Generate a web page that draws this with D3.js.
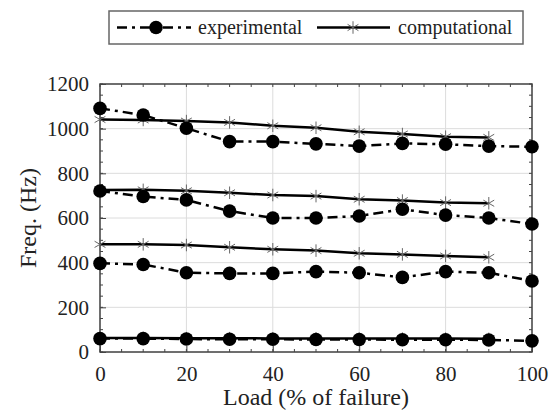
<!DOCTYPE html>
<html>
<head>
<meta charset="utf-8">
<script src="https://cdn.jsdelivr.net/npm/d3@7"></script>
<style>
  body { margin: 0; background: #fff; }
</style>
</head>
<body>
<div id="chart"></div>
<script>
// load levels (% of failure)
const loadExp = [0, 10, 20, 30, 40, 50, 60, 70, 80, 90, 100];
const loadComp = [0, 10, 20, 30, 40, 50, 60, 70, 80, 90];

// experimental frequencies (Hz), one array per mode
const exp1 = [60, 60, 58, 57, 57, 56, 56, 55, 55, 54, 50];
const exp2 = [397, 392, 355, 352, 352, 360, 355, 334, 360, 355, 318];
const exp3 = [721, 696, 681, 631, 600, 600, 609, 639, 613, 600, 573];
const exp4 = [1091, 1061, 1002, 942, 942, 932, 922, 934, 930, 922, 919];

// computational frequencies (Hz)
const comp1 = [63, 63, 62, 62, 61, 61, 60, 60, 60, 59];
const comp2 = [482, 482, 479, 469, 460, 454, 442, 437, 430, 424];
const comp3 = [725, 726, 722, 713, 703, 698, 684, 678, 669, 666];
const comp4 = [1041, 1039, 1034, 1028, 1013, 1004, 986, 976, 964, 961];

const xTicks = [0, 20, 40, 60, 80, 100];
const yTicks = [0, 200, 400, 600, 800, 1000, 1200];

const width = 552, height = 418;
const margin = { top: 84, right: 20, bottom: 66, left: 100 };
const serif = "'Liberation Serif'";

const svg = d3.select("#chart").append("svg")
  .attr("width", width)
  .attr("height", height);

const x = d3.scaleLinear().domain([0, 100]).range([margin.left, width - margin.right]);
const y = d3.scaleLinear().domain([0, 1200]).range([height - margin.bottom, margin.top]);

// grid
svg.append("g")
  .selectAll("line")
  .data(xTicks)
  .join("line")
  .attr("x1", d => x(d)).attr("x2", d => x(d))
  .attr("y1", y(0)).attr("y2", y(1200))
  .attr("stroke", "#dcdcdc").attr("stroke-width", 1);

svg.append("g")
  .selectAll("line")
  .data(yTicks)
  .join("line")
  .attr("x1", x(0)).attr("x2", x(100))
  .attr("y1", d => y(d)).attr("y2", d => y(d))
  .attr("stroke", "#dcdcdc").attr("stroke-width", 1);

// axes (ticks inward)
const axisColor = "#444";
function styleAxis(g) {
  g.attr("font-family", serif).attr("font-size", 21);
  g.select(".domain").remove();
  g.selectAll("line").attr("stroke", axisColor);
  g.selectAll("text").attr("fill", "#222");
}

const xMinor = d3.range(0, 101, 5);
const yMinor = d3.range(0, 1201, 50);

svg.append("g")
  .attr("transform", `translate(0,${y(0)})`)
  .call(d3.axisBottom(x).tickValues(xTicks).tickFormat(d3.format("d"))
    .tickSizeInner(-6).tickSizeOuter(0).tickPadding(14))
  .call(styleAxis);

svg.append("g")
  .attr("transform", `translate(${x(0)},0)`)
  .call(d3.axisLeft(y).tickValues(yTicks).tickFormat(d3.format("d"))
    .tickSizeInner(-6).tickSizeOuter(0).tickPadding(11))
  .call(styleAxis);

// minor ticks on all four sides
const minor = svg.append("g").attr("stroke", axisColor).attr("stroke-width", 1);
minor.append("g").selectAll("line").data(xMinor).join("line")
  .attr("x1", d => x(d)).attr("x2", d => x(d)).attr("y1", y(0)).attr("y2", y(0) - 3);
minor.append("g").selectAll("line").data(xMinor).join("line")
  .attr("x1", d => x(d)).attr("x2", d => x(d)).attr("y1", y(1200)).attr("y2", y(1200) + 3);
minor.append("g").selectAll("line").data(yMinor).join("line")
  .attr("x1", x(0)).attr("x2", x(0) + 3).attr("y1", d => y(d)).attr("y2", d => y(d));
minor.append("g").selectAll("line").data(yMinor).join("line")
  .attr("x1", x(100)).attr("x2", x(100) - 3).attr("y1", d => y(d)).attr("y2", d => y(d));

// frame
svg.append("rect")
  .attr("x", x(0)).attr("y", y(1200))
  .attr("width", x(100) - x(0)).attr("height", y(0) - y(1200))
  .attr("fill", "none").attr("stroke", axisColor).attr("stroke-width", 1.5);

// series
const line = d3.line().x(d => x(d[0])).y(d => y(d[1]));
const asterisk = d3.symbol().type(d3.symbolAsterisk).size(110);

[comp1, comp2, comp3, comp4].forEach(vals => {
  const pts = loadComp.map((l, i) => [l, vals[i]]);
  svg.append("path").datum(pts)
    .attr("d", line)
    .attr("fill", "none").attr("stroke", "#000").attr("stroke-width", 2.5);
  svg.append("g").selectAll("path").data(pts).join("path")
    .attr("transform", d => `translate(${x(d[0])},${y(d[1])})`)
    .attr("d", asterisk)
    .attr("fill", "none").attr("stroke", "#666").attr("stroke-width", 1);
});

[exp1, exp2, exp3, exp4].forEach(vals => {
  const pts = loadExp.map((l, i) => [l, vals[i]]);
  svg.append("path").datum(pts)
    .attr("d", line)
    .attr("fill", "none").attr("stroke", "#000").attr("stroke-width", 2.5)
    .attr("stroke-dasharray", "10,5,3,5");
  svg.append("g").selectAll("circle").data(pts).join("circle")
    .attr("cx", d => x(d[0])).attr("cy", d => y(d[1]))
    .attr("r", 6.8).attr("fill", "#000");
});

// axis titles
svg.append("text")
  .attr("x", (x(0) + x(100)) / 2).attr("y", 405)
  .attr("text-anchor", "middle")
  .style("font-family", serif).style("font-size", "24px").attr("fill", "#222")
  .text("Load (% of failure)");

svg.append("text")
  .attr("transform", `translate(36,${(y(0) + y(1200)) / 2}) rotate(-90)`)
  .attr("text-anchor", "middle")
  .style("font-family", serif).style("font-size", "24px").attr("fill", "#222")
  .text("Freq. (Hz)");

// legend
const lg = svg.append("g");
lg.append("rect")
  .attr("x", 109).attr("y", 11).attr("width", 414).attr("height", 33)
  .attr("fill", "#fff").attr("stroke", "#666").attr("stroke-width", 1.5);
lg.append("line")
  .attr("x1", 117).attr("x2", 191).attr("y1", 27.5).attr("y2", 27.5)
  .attr("stroke", "#000").attr("stroke-width", 2.5).attr("stroke-dasharray", "10,5,3,5");
lg.append("circle").attr("cx", 156).attr("cy", 27.5).attr("r", 6.8).attr("fill", "#000");
lg.append("text").attr("x", 198).attr("y", 34)
  .style("font-family", serif).style("font-size", "20px").attr("fill", "#222")
  .text("experimental");
lg.append("line")
  .attr("x1", 317).attr("x2", 390).attr("y1", 27.5).attr("y2", 27.5)
  .attr("stroke", "#000").attr("stroke-width", 2.5);
lg.append("path").attr("transform", "translate(353,27.5)").attr("d", asterisk)
  .attr("fill", "none").attr("stroke", "#666").attr("stroke-width", 1);
lg.append("text").attr("x", 398).attr("y", 34)
  .style("font-family", serif).style("font-size", "20px").attr("fill", "#222")
  .text("computational");
</script>
</body>
</html>
